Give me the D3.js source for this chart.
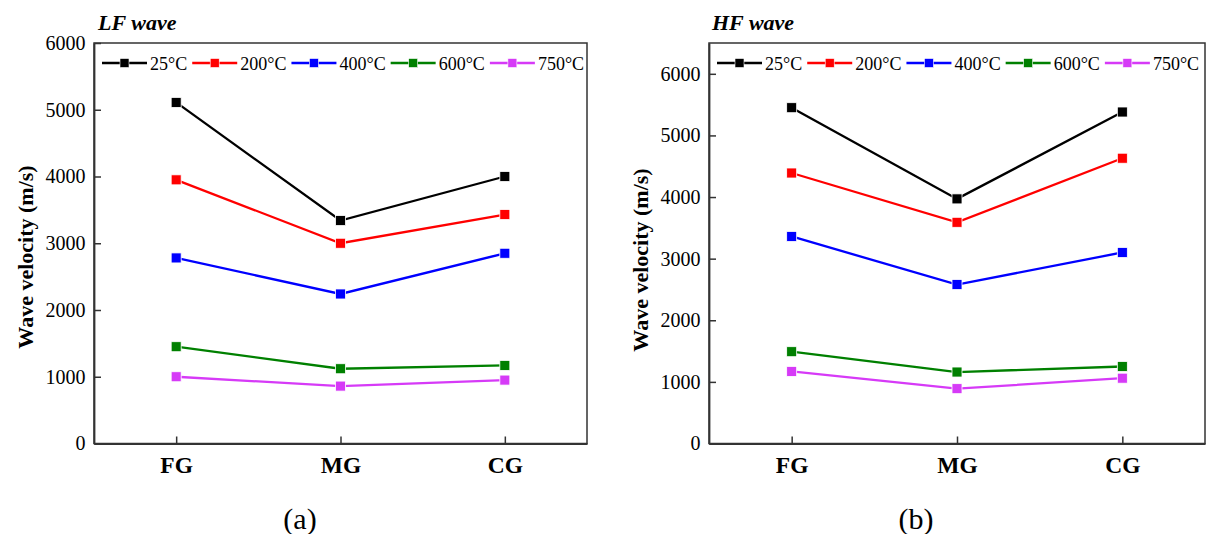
<!DOCTYPE html>
<html>
<head>
<meta charset="utf-8">
<script src="https://cdn.jsdelivr.net/npm/d3@7"></script>
<style>
  html, body { margin: 0; padding: 0; background: #fff; }
  svg { display: block; font-family: "Liberation Serif", "Times New Roman", serif; }
</style>
</head>
<body>
<svg id="chart" width="1210" height="534"></svg>
<script>
// Grain-size groups on the x axis
const categories = ["FG", "MG", "CG"];

// Heating temperatures (one line per temperature)
const temperatures = ["25°C", "200°C", "400°C", "600°C", "750°C"];
const colors = ["#000000", "#ff0000", "#0000ff", "#008000", "#d63af7"];

// Low-frequency wave velocity (m/s), per temperature, FG/MG/CG
const lf25 = [5110, 3340, 4000];
const lf200 = [3950, 3000, 3430];
const lf400 = [2780, 2240, 2850];
const lf600 = [1450, 1120, 1170];
const lf750 = [1000, 860, 950];

// High-frequency wave velocity (m/s), per temperature, FG/MG/CG
const hf25 = [5450, 3970, 5380];
const hf200 = [4390, 3590, 4630];
const hf400 = [3360, 2580, 3100];
const hf600 = [1490, 1160, 1250];
const hf750 = [1170, 890, 1060];

// Axis ticks
const lfTicks = [0, 1000, 2000, 3000, 4000, 5000, 6000];
const hfTicks = [0, 1000, 2000, 3000, 4000, 5000, 6000];

const svg = d3.select("#chart");

function drawPanel(opt) {
  const g = svg.append("g");
  const { left, right, top, bottom } = opt.box;

  const x = d3.scalePoint().domain(categories).range([left, right]).padding(0.5);
  const y = d3.scaleLinear().domain([0, opt.yMax]).range([bottom, top]);

  // Frame (top and right borders)
  g.append("rect")
    .attr("x", left).attr("y", top)
    .attr("width", right - left).attr("height", bottom - top)
    .attr("fill", "none").attr("stroke", "#333").attr("stroke-width", 1.5);

  // Y axis with inward ticks
  const yAxis = g.append("g")
    .attr("transform", `translate(${left},0)`)
    .call(d3.axisLeft(y).tickValues(opt.ticks).tickFormat(d3.format("d"))
      .tickSizeInner(-7).tickSizeOuter(0).tickPadding(8.5));
  yAxis.select(".domain").attr("stroke", "#333").attr("stroke-width", 1.8);
  yAxis.selectAll(".tick line").attr("stroke", "#333").attr("stroke-width", 1.5);
  yAxis.selectAll(".tick text")
    .attr("font-size", 20).attr("fill", "#000")
    .attr("font-family", "Liberation Serif, serif");

  // X axis with inward ticks
  const xAxis = g.append("g")
    .attr("transform", `translate(0,${bottom})`)
    .call(d3.axisBottom(x).tickSizeInner(-7).tickSizeOuter(0).tickPadding(13));
  xAxis.select(".domain").attr("stroke", "#333").attr("stroke-width", 1.8);
  xAxis.selectAll(".tick line").attr("stroke", "#333").attr("stroke-width", 1.5);
  xAxis.selectAll(".tick text")
    .attr("font-size", 23.5).attr("font-weight", "bold").attr("fill", "#000")
    .attr("font-family", "Liberation Serif, serif");

  // Series lines and markers
  const line = d3.line().x((d, i) => x(categories[i])).y(d => y(d));
  opt.series.forEach((vals, si) => {
    g.append("path")
      .datum(vals)
      .attr("d", line)
      .attr("fill", "none")
      .attr("stroke", colors[si])
      .attr("stroke-width", 2.3);
  });
  opt.series.forEach((vals, si) => {
    g.selectAll(null)
      .data(vals)
      .enter().append("rect")
      .attr("x", (d, i) => x(categories[i]) - 5)
      .attr("y", d => y(d) - 5)
      .attr("width", 10).attr("height", 10)
      .attr("fill", colors[si])
      .attr("stroke", "#fff").attr("stroke-width", 0.8);
  });

  // Legend (single row)
  let lx = opt.legendX;
  const ly = opt.legendY;
  temperatures.forEach((t, i) => {
    g.append("line")
      .attr("x1", lx).attr("x2", lx + 45).attr("y1", ly).attr("y2", ly)
      .attr("stroke", colors[i]).attr("stroke-width", 2.3);
    g.append("rect")
      .attr("x", lx + 22.5 - 4.5).attr("y", ly - 4.5)
      .attr("width", 9).attr("height", 9)
      .attr("fill", colors[i]).attr("stroke", "#fff").attr("stroke-width", 0.6);
    const txt = g.append("text")
      .attr("x", lx + 48).attr("y", ly + 6.5)
      .attr("font-size", 18).attr("fill", "#000")
      .text(t);
    lx += 48 + txt.node().getComputedTextLength() + 5;
  });

  // Panel title
  g.append("text")
    .attr("x", opt.titleX).attr("y", 30)
    .attr("font-size", 22).attr("font-weight", "bold").attr("font-style", "italic")
    .text(opt.title);

  // Y axis title
  g.append("text")
    .attr("transform", `translate(${opt.yTitleX},${opt.yTitleY}) rotate(-90)`)
    .attr("text-anchor", "middle")
    .attr("font-size", 22).attr("font-weight", "bold")
    .text("Wave velocity (m/s)");

  // Sub-figure label
  g.append("text")
    .attr("x", opt.capX).attr("y", 529)
    .attr("text-anchor", "middle")
    .attr("font-size", 30)
    .text(opt.caption);
}

drawPanel({
  box: { left: 94, right: 587, top: 43, bottom: 443.5 },
  yMax: 6000,
  ticks: lfTicks,
  series: [lf25, lf200, lf400, lf600, lf750],
  legendX: 102, legendY: 63,
  title: "LF wave", titleX: 98,
  yTitleX: 33, yTitleY: 257,
  caption: "(a)", capX: 300
});

drawPanel({
  box: { left: 709, right: 1205, top: 43, bottom: 443.5 },
  yMax: 6500,
  ticks: hfTicks,
  series: [hf25, hf200, hf400, hf600, hf750],
  legendX: 717, legendY: 63,
  title: "HF wave", titleX: 712,
  yTitleX: 648, yTitleY: 260,
  caption: "(b)", capX: 916
});
</script>
</body>
</html>
